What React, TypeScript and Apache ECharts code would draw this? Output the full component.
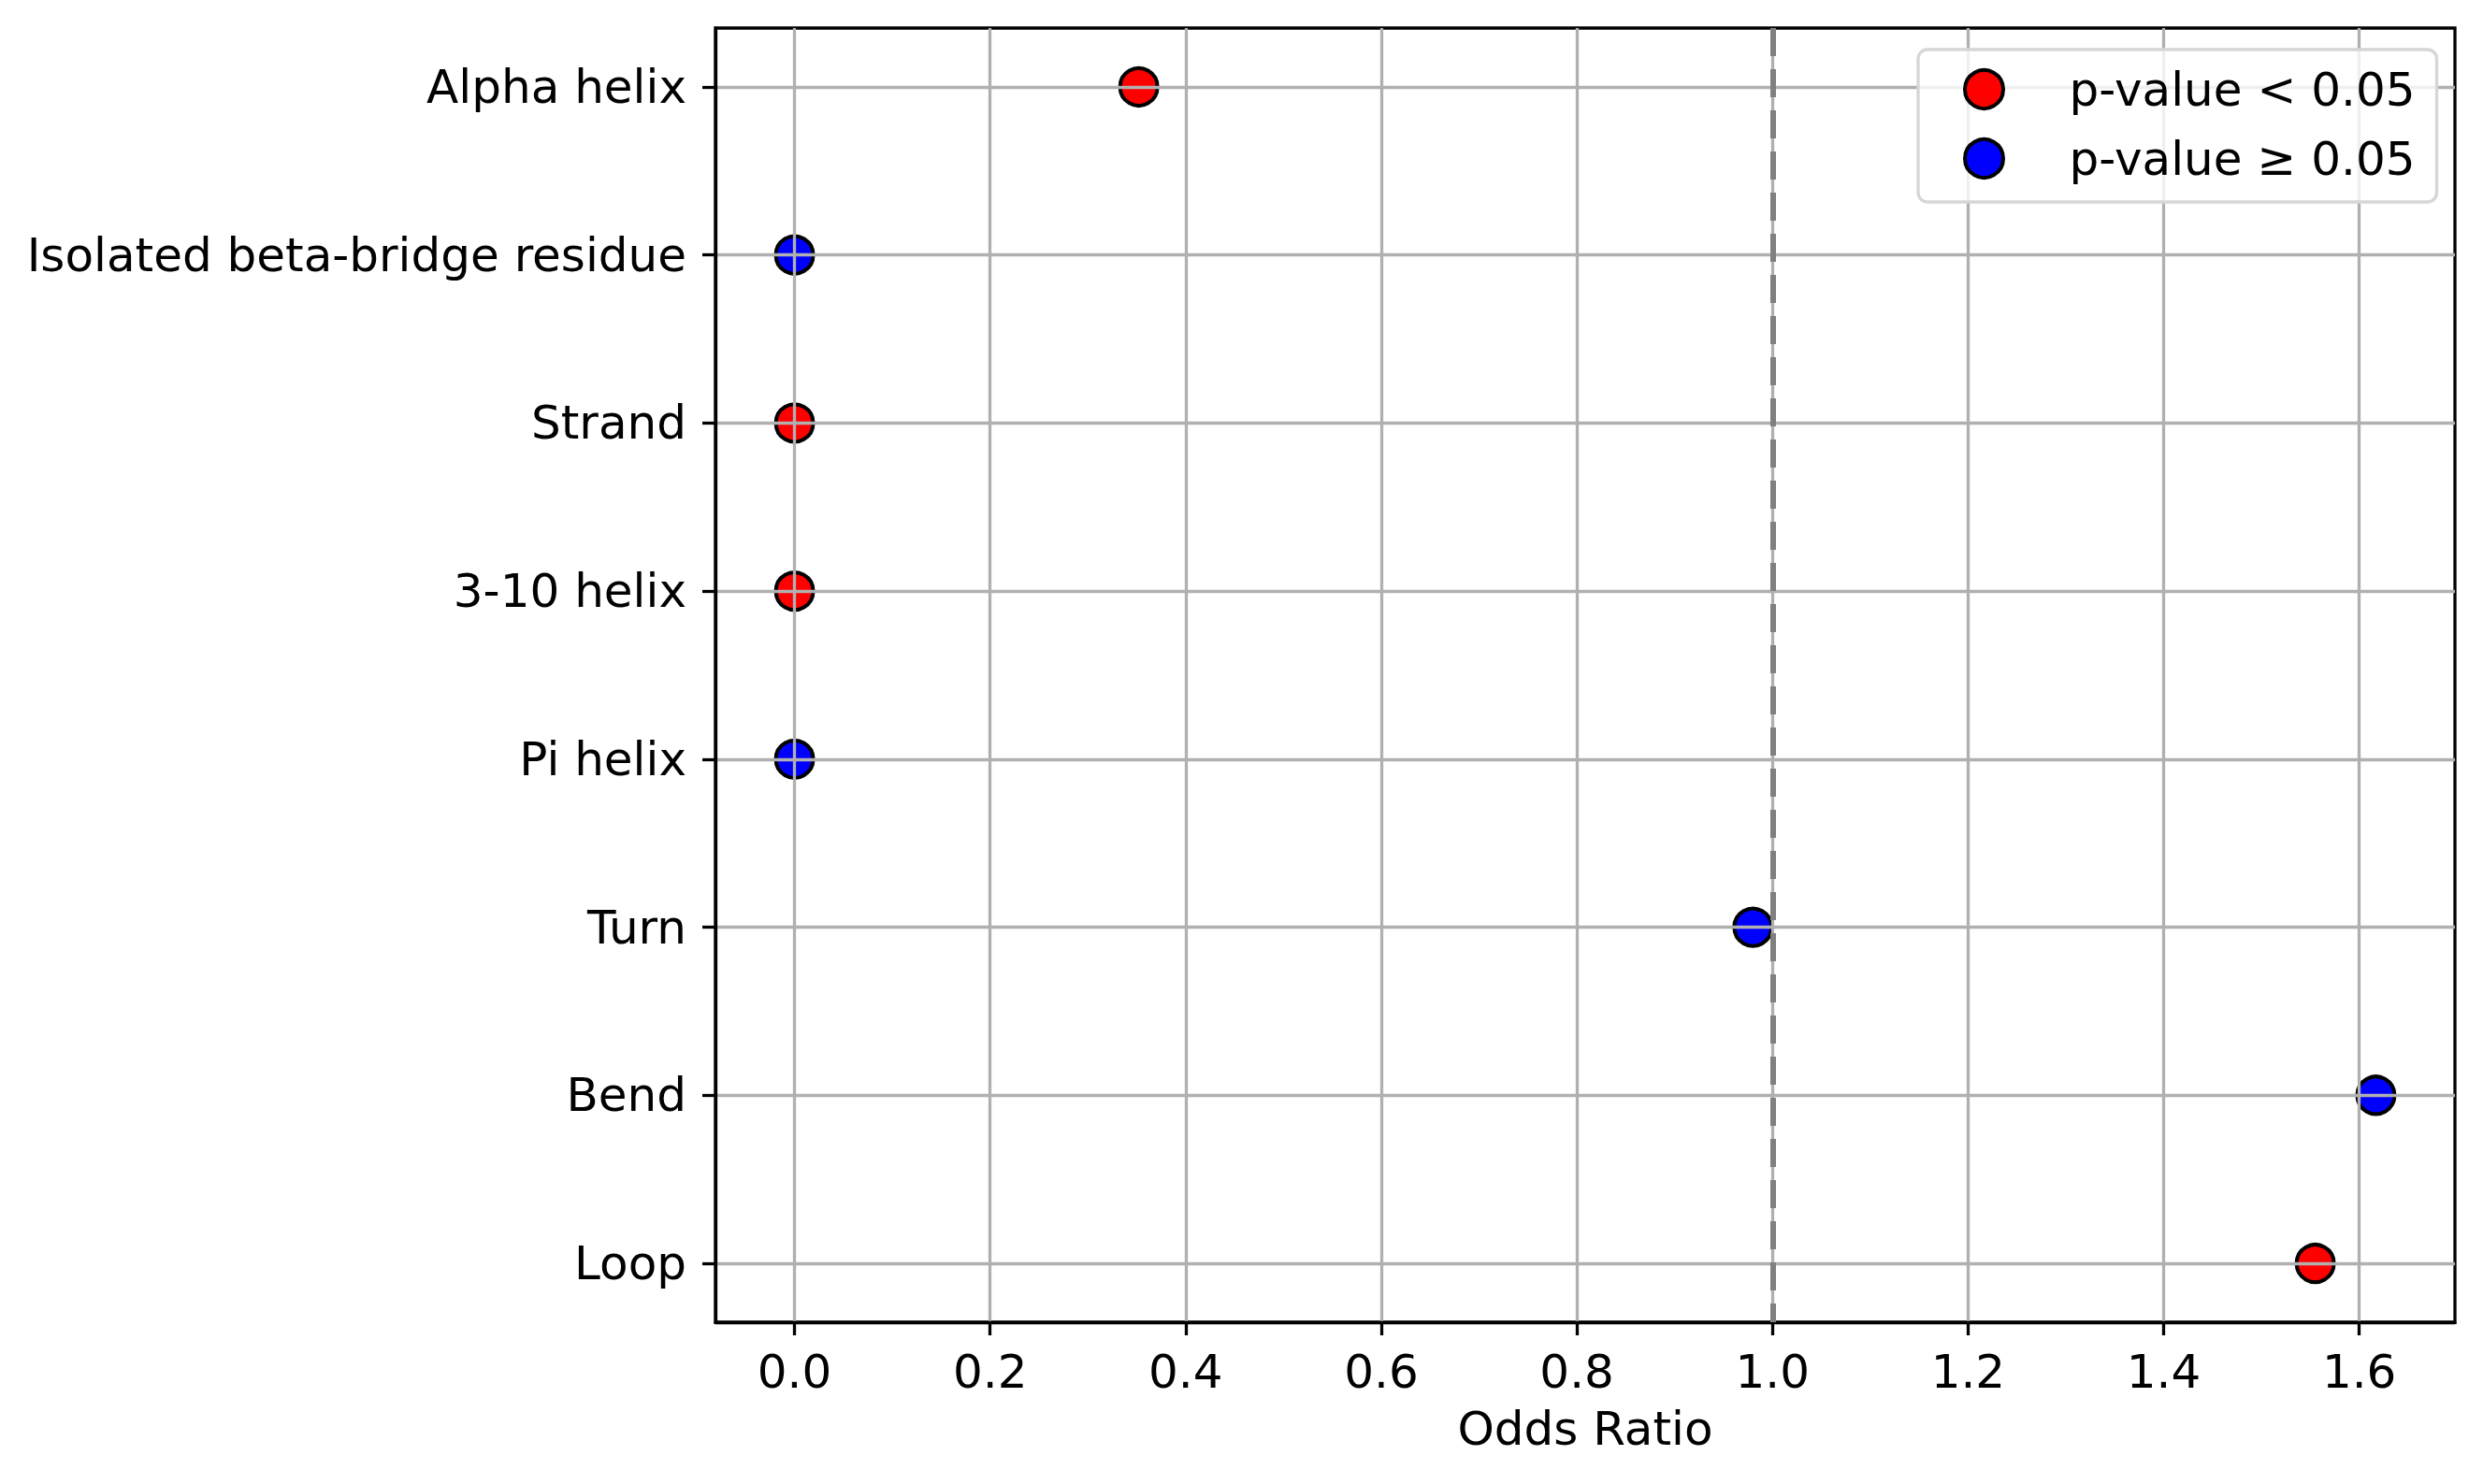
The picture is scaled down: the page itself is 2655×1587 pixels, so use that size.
import React, { useEffect, useRef } from "react";
import * as echarts from "echarts";

const categories = [
  "Alpha helix",
  "Isolated beta-bridge residue",
  "Strand",
  "3-10 helix",
  "Pi helix",
  "Turn",
  "Bend",
  "Loop",
];
const oddsRatios = [0.352, 0.0, 0.0, 0.0, 0.0, 0.98, 1.617, 1.555];
const significant = [true, false, true, true, false, false, false, true];
const xTicks = [0, 0.2, 0.4, 0.6, 0.8, 1.0, 1.2, 1.4, 1.6];
const referenceLine = 1.0;
const seriesNames = ["p-value < 0.05", "p-value \u2265 0.05"];
const seriesColors = ["#ff0000", "#0000ff"];

const FONT = "DejaVu Sans";

export default function App() {
  const ref = useRef<HTMLDivElement>(null);
  useEffect(() => {
    if (!ref.current) return;
    const chart = echarts.init(ref.current, null, { renderer: "svg" });
    const xmin = Math.min(...oddsRatios);
    const xmax = Math.max(...oddsRatios);
    const xr = xmax - xmin;
    const n = categories.length;
    const yTicks = categories.map((_, i) => i);

    const sigData = oddsRatios
      .map((v, i) => [v, i])
      .filter((_, i) => significant[i]);
    const nonData = oddsRatios
      .map((v, i) => [v, i])
      .filter((_, i) => !significant[i]);

    const scatterBase = (name: string, color: string, data: number[][]) => ({
      name,
      type: "scatter",
      data,
      symbol: "circle",
      symbolSize: 40,
      z: 2,
      itemStyle: { color, borderColor: "#000000", borderWidth: 4, opacity: 1 },
      emphasis: { disabled: true },
    });

    chart.setOption({
      animation: false,
      backgroundColor: "#ffffff",
      grid: {
        left: 765,
        top: 30,
        width: 1860,
        height: 1384,
        show: true,
        borderColor: "#000000",
        borderWidth: 3.3,
        backgroundColor: "transparent",
        containLabel: false,
      },
      legend: {
        data: seriesNames,
        orient: "vertical",
        left: 2051,
        top: 53,
        padding: [17.5, 23, 21.5, 48],
        itemWidth: 41,
        itemHeight: 41,
        itemGap: 24,
        icon: "circle",
        itemStyle: { borderColor: "#000000", borderWidth: 4 },
        backgroundColor: "rgba(255,255,255,0.8)",
        borderColor: "#d6d6d6",
        borderWidth: 3.3,
        borderRadius: 10,
        selectedMode: false,
        z: 10,
        textStyle: {
          fontFamily: FONT,
          fontSize: 50,
          color: "#000000",
          lineHeight: 41,
          padding: [0, 0, 0, 65.5],
        },
      },
      xAxis: {
        type: "value",
        min: xmin - 0.05 * xr,
        max: xmax + 0.05 * xr,
        z: 3,
        name: "Odds Ratio",
        nameLocation: "middle",
        nameGap: 89,
        nameTextStyle: { fontFamily: FONT, fontSize: 50, color: "#000000" },
        axisLine: { show: true, onZero: false, lineStyle: { color: "#000000", width: 3.3 } },
        axisTick: {
          show: true,
          inside: false,
          length: 14,
          lineStyle: { color: "#000000", width: 3.3 },
          customValues: xTicks,
        },
        axisLabel: {
          fontFamily: FONT,
          fontSize: 50,
          color: "#000000",
          margin: 28,
          customValues: xTicks,
          formatter: (v: number) => v.toFixed(1),
        },
        splitLine: { show: true, lineStyle: { color: "#b0b0b0", width: 3.3 } },
      },
      yAxis: {
        type: "value",
        inverse: true,
        min: -0.35,
        max: n - 1 + 0.35,
        z: 3,
        axisLine: { show: true, onZero: false, lineStyle: { color: "#000000", width: 3.3 } },
        axisTick: {
          show: true,
          inside: false,
          length: 14,
          lineStyle: { color: "#000000", width: 3.3 },
          customValues: yTicks,
        },
        axisLabel: {
          fontFamily: FONT,
          fontSize: 50,
          color: "#000000",
          margin: 31,
          customValues: yTicks,
          formatter: (v: number) => categories[Math.round(v)] ?? "",
        },
        splitLine: { show: true, lineStyle: { color: "#b0b0b0", width: 3.3 } },
      },
      series: [
        scatterBase(seriesNames[0], seriesColors[0], sigData),
        scatterBase(seriesNames[1], seriesColors[1], nonData),
        {
          name: "ref",
          type: "scatter",
          data: [],
          z: 5,
          markLine: {
            silent: true,
            symbol: "none",
            animation: false,
            label: { show: false },
            lineStyle: { color: "#808080", width: 6, type: [30, 14], opacity: 1 },
            emphasis: { disabled: true },
            data: [{ xAxis: referenceLine }],
          },
        },
      ],
    });
    return () => chart.dispose();
  }, []);
  return (
    <div
      ref={ref}
      style={{ position: "fixed", left: 0, top: 0, width: 2655, height: 1587 }}
    />
  );
}
